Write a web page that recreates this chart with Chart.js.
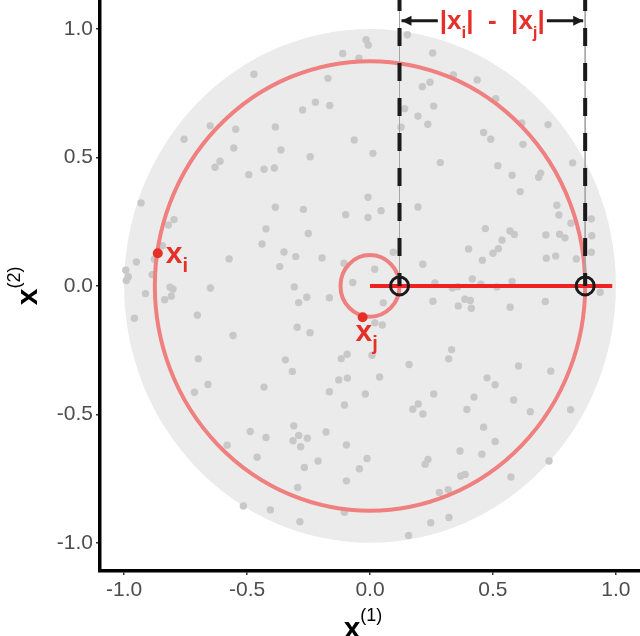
<!DOCTYPE html>
<html lang="en">
<head>
<meta charset="UTF-8">
<title>|x_i| - |x_j| on the unit disk</title>
<style>
  body { margin: 0; background: #fff; }
  #wrap { width: 640px; height: 636px; }
</style>
</head>
<body>
<div id="wrap"><canvas id="chart"></canvas></div>
<script src="https://cdn.jsdelivr.net/npm/chart.js"></script>
<script>
// axes
const xTicks = [-1.0, -0.5, 0.0, 0.5, 1.0];
const yTicks = [-1.0, -0.5, 0.0, 0.5, 1.0];
const xRange = [-1.098, 1.098];
const yRange = [-1.11, 1.113];

// sample points
const grayX = [
  -0.472, -0.650, -0.546, -0.385, -0.756, -0.554, -0.362, -0.610, -0.630, -0.493, -0.431, -0.389,
  -0.016, -0.007, 0.152, -0.111, -0.045, 0.255, -0.171, 0.244, 0.213, -0.222, -0.274, -0.164,
  0.141, 0.259, 0.195, 0.235, 0.126, -0.064, 0.012, -0.243, 0.286, -0.008, 0.339, 0.436,
  0.511, 0.617, 0.724, 0.462, 0.491, 0.622, 0.824, 0.520, 0.578, 0.694, 0.686, 0.611,
  -0.931, -0.385, -0.797, -0.820, -0.423, -0.439, -0.844, -0.350, -0.573, -0.950, -0.877, -0.993,
  -0.983, -0.991, -0.886, -0.367, -0.813, -0.801, -0.649, -0.913, -0.808, -0.835, -0.702, -0.958,
  -0.557, -0.698, -0.344, -0.271, -0.099, -0.008, 0.045, 0.195, -0.251, -0.302, -0.195, 0.095,
  -0.106, 0.019, 0.215, -0.308, -0.070, -0.165, -0.257, -0.290, 0.054, 0.256, 0.264, -0.296,
  -0.244, 0.020, 0.050, -0.093, -0.117, 0.008, 0.159, -0.316, 0.320, 0.760, 0.768, 0.900,
  0.817, 0.469, 0.569, 0.587, 0.715, 0.771, 0.793, 0.902, 0.537, 0.401, 0.522, 0.500,
  0.457, 0.717, 0.755, 0.839, 0.900, 0.416, 0.578, 0.451, 0.516, 0.335, 0.357, 0.936,
  0.386, 0.408, 0.359, 0.412, 0.570, 0.713, 0.332, 0.604, 0.735, -0.659, -0.714, -0.431,
  -0.487, -0.423, -0.581, -0.459, -0.515, -0.405, -0.127, -0.092, 0.039, -0.165, -0.019, 0.259,
  -0.104, 0.196, 0.174, 0.215, -0.310, -0.290, -0.313, -0.255, -0.282, -0.179, -0.096, -0.211,
  -0.267, -0.012, -0.043, 0.236, 0.224, -0.096, -0.294, 0.282, 0.318, -0.104, -0.285, 0.247,
  0.321, 0.157, 0.476, 0.509, 0.423, 0.584, 0.394, 0.652, 0.816, 0.462, 0.509, 0.366,
  0.455, 0.728, 0.369, 0.387, 0.573
];
const grayY = [
  0.824, 0.623, 0.610, 0.619, 0.571, 0.537, 0.529, 0.485, 0.462, 0.433, 0.454, 0.459,
  0.958, 0.938, 0.978, 0.905, 0.886, 0.907, 0.808, 0.793, 0.775, 0.715, 0.685, 0.702,
  0.690, 0.700, 0.661, 0.629, 0.618, 0.568, 0.516, 0.503, 0.480, 0.345, 0.821, 0.802,
  0.729, 0.634, 0.628, 0.597, 0.571, 0.551, 0.479, 0.468, 0.431, 0.439, 0.423, 0.367,
  0.323, 0.306, 0.258, 0.237, 0.222, 0.163, 0.156, 0.132, 0.105, 0.093, 0.104, 0.061,
  0.036, 0.021, 0.044, 0.075, -0.005, -0.013, -0.008, -0.030, -0.040, -0.054, -0.114, -0.126,
  -0.193, -0.284, -0.288, 0.298, 0.277, 0.266, 0.293, 0.307, 0.204, 0.114, 0.109, 0.131,
  0.088, 0.065, 0.084, -0.004, 0.013, -0.046, -0.044, -0.065, -0.066, -0.060, 0.011, -0.161,
  -0.182, -0.144, -0.152, -0.266, -0.283, -0.270, -0.306, -0.333, -0.284, 0.314, 0.276, 0.261,
  0.244, 0.223, 0.214, 0.200, 0.198, 0.201, 0.187, 0.195, 0.178, 0.144, 0.145, 0.127,
  0.100, 0.108, 0.116, 0.105, 0.131, 0.027, 0.017, 0.007, -0.004, -0.008, -0.003, -0.025,
  -0.052, -0.057, -0.078, -0.087, -0.083, -0.061, -0.248, -0.312, -0.332, -0.384, -0.414, -0.394,
  -0.567, -0.590, -0.620, -0.667, -0.857, -0.872, -0.366, -0.359, -0.355, -0.412, -0.421, -0.421,
  -0.464, -0.460, -0.480, -0.499, -0.545, -0.582, -0.603, -0.593, -0.626, -0.569, -0.619, -0.682,
  -0.707, -0.672, -0.712, -0.676, -0.694, -0.759, -0.785, -0.804, -0.793, -0.881, -0.918, -0.922,
  -0.902, -0.972, -0.358, -0.385, -0.433, -0.444, -0.481, -0.490, -0.482, -0.550, -0.606, -0.643,
  -0.655, -0.682, -0.740, -0.734, -0.744
];

// circles as [cx, cy, r]
const diskCircle = [0, 0, 1];
const bigCircle = [0, 0, 0.875];
const smallCircle = [0, 0, 0.12];

// highlighted points and their projections
const pointI = [-0.863, 0.127];
const pointJ = [-0.030, -0.122];
const markX = [0.12, 0.875];
const radialLine = [0, 0.985];
const arrowY = 1.032;

const RED = '#E5302A';
const DARK = '#1A1A1A';
const FONT = "'Liberation Sans', Arial, sans-serif";

function ellipsePath(ctx, x, y, c) {
  const cx = x.getPixelForValue(c[0]), cy = y.getPixelForValue(c[1]);
  const rx = Math.abs(x.getPixelForValue(c[0] + c[2]) - cx);
  const ry = Math.abs(y.getPixelForValue(c[1] + c[2]) - cy);
  ctx.beginPath();
  ctx.ellipse(cx, cy, rx, ry, 0, 0, Math.PI * 2);
}

// pieces: [text, font, dy]
function piecesWidth(ctx, pieces) {
  let w = 0;
  pieces.forEach(p => { ctx.font = p[1]; w += ctx.measureText(p[0]).width; });
  return w;
}
function drawPieces(ctx, x0, y0, pieces) {
  let cx = x0;
  ctx.textAlign = 'left';
  ctx.textBaseline = 'alphabetic';
  pieces.forEach(p => {
    ctx.font = p[1];
    ctx.fillText(p[0], cx, y0 + p[2]);
    cx += ctx.measureText(p[0]).width;
  });
  return cx;
}

function arrow(ctx, x1, x2, yy, headAtEnd) {
  ctx.beginPath();
  ctx.moveTo(x1, yy);
  ctx.lineTo(x2, yy);
  ctx.stroke();
  const tip = headAtEnd ? x2 : x1;
  const dir = headAtEnd ? -1 : 1;
  ctx.beginPath();
  ctx.moveTo(tip, yy);
  ctx.lineTo(tip + dir * 10, yy - 5);
  ctx.lineTo(tip + dir * 10, yy + 5);
  ctx.closePath();
  ctx.fill();
}

const overlay = {
  id: 'overlay',
  beforeDatasetsDraw(chart) {
    const { ctx, chartArea: a, scales: { x, y } } = chart;
    ctx.save();
    ctx.beginPath();
    ctx.rect(a.left, a.top, a.width, a.height);
    ctx.clip();
    ellipsePath(ctx, x, y, diskCircle);
    ctx.fillStyle = '#EBEBEB';
    ctx.fill();
    ctx.restore();
  },
  afterDatasetDraw(chart, args) {
    if (chart.data.datasets[args.index].label !== 'sample') return;
    const { ctx, scales: { x, y } } = chart;
    ctx.save();
    ctx.strokeStyle = '#F08080';
    ctx.lineWidth = 4;
    ellipsePath(ctx, x, y, bigCircle);
    ctx.stroke();
    ellipsePath(ctx, x, y, smallCircle);
    ctx.stroke();
    ctx.restore();
  },
  afterDraw(chart) {
    const { ctx, chartArea: a, scales: { x, y } } = chart;
    ctx.save();

    // point labels
    ctx.fillStyle = RED;
    const main = "bold 30px " + FONT, sub = "bold 20px " + FONT;
    drawPieces(ctx, x.getPixelForValue(pointI[0]) + 8, y.getPixelForValue(pointI[1]) + 10,
      [['x', main, 0], ['i', sub, 9]]);
    drawPieces(ctx, x.getPixelForValue(pointJ[0]) - 7, y.getPixelForValue(pointJ[1]) + 24,
      [['x', main, 0], ['j', sub, 9]]);

    // difference label with arrows
    const tMain = "bold 26px " + FONT, tSub = "bold 17px " + FONT;
    const pieces = [['|x', tMain, 0], ['i', tSub, 9], ['|  -  |x', tMain, 0], ['j', tSub, 9], ['|', tMain, 0]];
    const w = piecesWidth(ctx, pieces);
    const xa = x.getPixelForValue(markX[0]), xb = x.getPixelForValue(markX[1]);
    const ay = y.getPixelForValue(arrowY);
    const left = (xa + xb) / 2 - w / 2;
    drawPieces(ctx, left, ay + 8, pieces);
    ctx.strokeStyle = DARK;
    ctx.fillStyle = DARK;
    ctx.lineWidth = 3;
    arrow(ctx, xa + 2, left - 2, ay, false);
    arrow(ctx, left + w + 2, xb - 2, ay, true);

    // axis titles
    ctx.fillStyle = '#000';
    const tt = "bold 30px " + FONT, sup = "18px " + FONT;
    const xt = [['x', tt, 0], ['(1)', sup, -17]];
    const xcx = x.getPixelForValue(0) - 7;
    drawPieces(ctx, xcx - piecesWidth(ctx, xt) / 2, 638, xt);

    const yt = [['x', tt, 0], ['(2)', sup, -17]];
    ctx.translate(37, y.getPixelForValue(0));
    ctx.rotate(-Math.PI / 2);
    drawPieces(ctx, -piecesWidth(ctx, yt) / 2, 0, yt);
    ctx.restore();
  }
};

// drop the room Chart.js keeps for half tick labels at the ends
function noPad(s) {
  s.paddingTop = 0;
  s.paddingBottom = 0;
  s.paddingLeft = 0;
  s.paddingRight = 0;
}

function axis(range, ticks, fit) {
  return {
    type: 'linear',
    min: range[0],
    max: range[1],
    afterBuildTicks: s => { s.ticks = ticks.map(v => ({ value: v })); },
    afterFit: s => { fit(s); noPad(s); },
    grid: { display: true, drawOnChartArea: false, drawTicks: true, tickLength: 4, color: '#333333', lineWidth: 1.5 },
    border: { display: true, color: '#000', width: 3.5 },
    ticks: {
      color: '#4D4D4D',
      font: { family: FONT, size: 21 },
      padding: 3,
      maxRotation: 0,
      callback: v => v.toFixed(1)
    }
  };
}

new Chart(document.getElementById('chart'), {
  type: 'scatter',
  data: {
    datasets: [
      {
        label: 'xi xj',
        data: [pointI, pointJ].map(p => ({ x: p[0], y: p[1] })),
        pointRadius: 5, backgroundColor: RED, borderWidth: 0, order: 1
      },
      {
        label: 'marks',
        data: markX.map(v => ({ x: v, y: 0 })),
        pointRadius: 9, borderWidth: 3, borderColor: DARK, backgroundColor: 'rgba(0,0,0,0)', order: 2
      },
      {
        label: 'dash a',
        data: [{ x: markX[0], y: yRange[1] }, { x: markX[0], y: 0 }],
        showLine: true, pointRadius: 0, borderColor: DARK, borderWidth: 4,
        borderDash: [18, 17], borderDashOffset: 7, order: 3
      },
      {
        label: 'dash b',
        data: [{ x: markX[1], y: yRange[1] }, { x: markX[1], y: 0 }],
        showLine: true, pointRadius: 0, borderColor: DARK, borderWidth: 4,
        borderDash: [18, 17], borderDashOffset: 7, order: 3
      },
      {
        label: 'guide a',
        data: [{ x: markX[0], y: yRange[1] }, { x: markX[0], y: 0 }],
        showLine: true, pointRadius: 0, borderColor: '#A6A6A6', borderWidth: 1, order: 4
      },
      {
        label: 'guide b',
        data: [{ x: markX[1], y: yRange[1] }, { x: markX[1], y: 0 }],
        showLine: true, pointRadius: 0, borderColor: '#A6A6A6', borderWidth: 1, order: 4
      },
      {
        label: 'radial',
        data: radialLine.map(v => ({ x: v, y: 0 })),
        showLine: true, pointRadius: 0, borderColor: '#EE2222', borderWidth: 4, order: 5
      },
      {
        label: 'sample',
        data: grayX.map((v, i) => ({ x: v, y: grayY[i] })),
        pointRadius: 3.7, backgroundColor: '#C8C8C8', borderWidth: 0, order: 6
      }
    ]
  },
  options: {
    responsive: true,
    maintainAspectRatio: false,
    animation: false,
    layout: { padding: 0, autoPadding: false },
    plugins: { legend: { display: false }, tooltip: { enabled: false } },
    scales: {
      x: axis(xRange, xTicks, s => { s.height = 65; }),
      y: axis(yRange, yTicks, s => { s.width = 100; })
    }
  },
  plugins: [overlay]
});
</script>
</body>
</html>
